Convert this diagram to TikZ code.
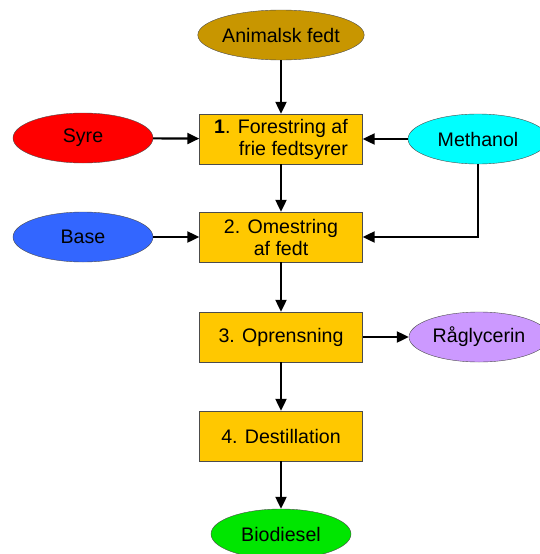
\documentclass[tikz,border=0pt]{standalone}
\usepackage{fontspec}
\setmainfont{Liberation Sans}
\usepackage{xcolor}
\definecolor{stepyellow}{HTML}{FFC800}
\definecolor{fatgold}{HTML}{C89600}
\definecolor{acidred}{HTML}{FF0000}
\definecolor{baseblue}{HTML}{3366FF}
\definecolor{methcyan}{HTML}{00FFFF}
\definecolor{glycpurple}{HTML}{CC99FF}
\definecolor{dieselgreen}{HTML}{00E600}
\usetikzlibrary{shapes.geometric,arrows.meta}

\begin{document}
\begin{tikzpicture}[x=1pt,y=-1pt,
  font=\fontsize{19.6}{22}\selectfont,
  stepbox/.style={draw=black!70, fill=stepyellow, minimum width=163pt, minimum height=50pt, inner sep=2pt},
  inputell/.style={ellipse, draw=black!70, minimum width=140pt, minimum height=50pt, inner sep=0pt},
  flow/.style={-{Triangle[length=12pt,width=11pt]}, line width=2.2pt}]
\useasboundingbox (0,0) rectangle (539,554);

% Process steps
\node[stepbox, align=right] (s1) at (281,139) {\textbf{1}. Forestring af\\frie fedtsyrer};
\node[stepbox, align=center] (s2) at (281,237) {2. Omestring\\af fedt};
\node[stepbox] (s3) at (281,337) {3. Oprensning};
\node[stepbox] (s4) at (281,436) {4. Destillation};

% Inputs and outputs
\node[inputell, fill=fatgold] (fat) at (281,35) {Animalsk fedt};
\node[inputell, fill=acidred] (acid) at (83,138) {Syre};
\node[inputell, fill=baseblue] (base) at (83,237) {Base};
\node[inputell, fill=methcyan] (meth) at (478,139) {Methanol};
\node[inputell, fill=glycpurple] (glyc) at (479,337) {Råglycerin};
\node[inputell, fill=dieselgreen] (diesel) at (281,534) {Biodiesel};

% Main line
\draw[flow] (fat) -- (s1);
\draw[flow] (s1) -- (s2);
\draw[flow] (s2) -- (s3);
\draw[flow] (s3) -- (s4);
\draw[flow] (s4) -- (diesel);

% Side feeds
\draw[flow] (acid) -- (s1);
\draw[flow] (meth) -- (s1);
\draw[flow] (base) -- (s2);
\draw[flow] (meth.south) |- (s2.east);
\draw[flow] (s3) -- (glyc);
\end{tikzpicture}
\end{document}
